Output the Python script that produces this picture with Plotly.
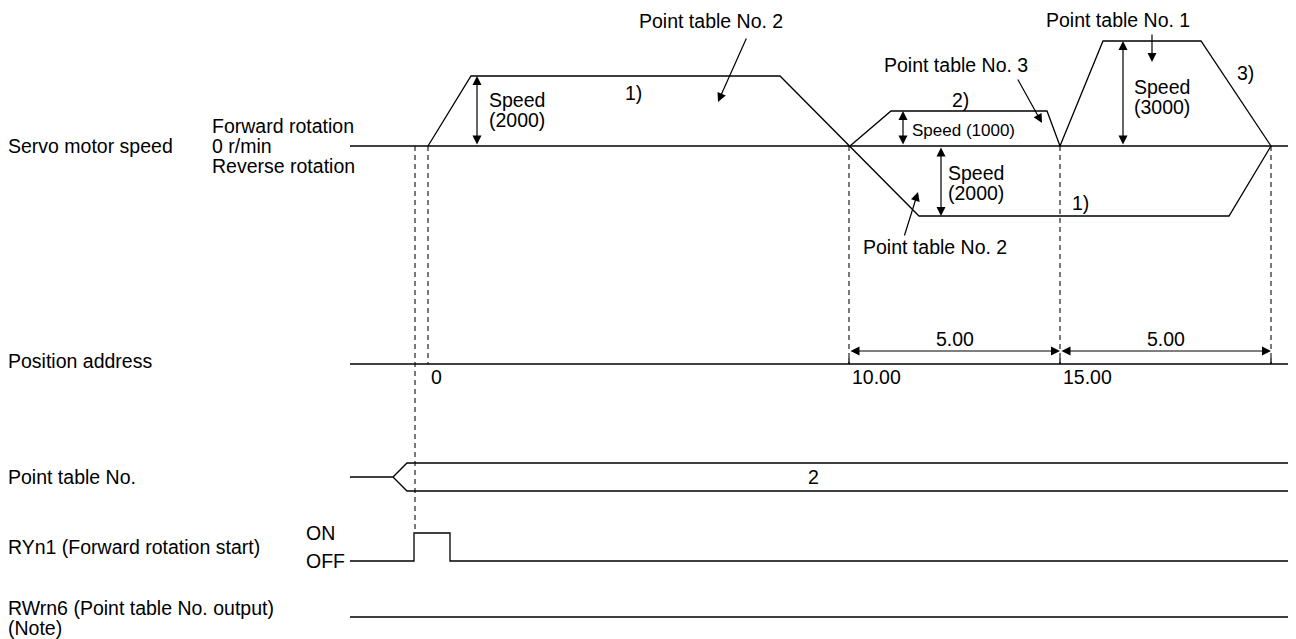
import plotly.graph_objects as go

# --- data -------------------------------------------------------------
# time axis runs left to right (chart units), speed in r/min
SPEED_A_T = [428, 471, 780, 919, 1229, 1271]
SPEED_A_RPM = [0, 2000, 2000, -2000, -2000, 0]
SPEED_B_T = [850, 891, 1047, 1060, 1103, 1201, 1271]
SPEED_B_RPM = [0, 1000, 1000, 0, 3000, 3000, 0]

POS_T = [428, 849, 1060]
POS_LABELS = ['0', '10.00', '15.00']
DIST_T = [849, 1060, 1271]
DIST_LABELS = ['5.00', '5.00']

PT_CHANGE_T = [393, 407]
PT_VALUE = '2'

RY_T = [350, 414, 414, 450, 450, 1292]
RY_STATE = [0, 0, 1, 1, 0, 0]
RW_T = [350, 1292]
RW_STATE = [0, 0]

T_START, T_END = 350, 1292

# --- layout helpers ---------------------------------------------------
SPEED_Y0 = 146
PX_PER_RPM = 70 / 2000
POS_Y = 364
PT_Y, PT_H = 477, 14
RY_Y0, RY_H = 561, 28
RW_Y0 = 617

# page body has an 8px margin, so the figure is offset by that much
OFF = 8
FONT = 'Arial, Liberation Sans, sans-serif'
INK = '#000000'


def sy(rpm):
    return SPEED_Y0 - rpm * PX_PER_RPM


fig = go.Figure()


def line(xs, ys, dash=None, color=INK, width=1.3):
    fig.add_trace(go.Scatter(x=xs, y=ys, mode='lines', hoverinfo='skip',
                             line=dict(color=color, width=width, dash=dash)))


def text(x, y, s, size=19.5, anchor='left'):
    fig.add_annotation(x=x, y=y, text=s, showarrow=False, xanchor=anchor,
                       yanchor='middle', borderpad=0, borderwidth=0,
                       font=dict(family=FONT, size=size, color=INK))


def arrow(x, y, ax, ay, both=False):
    fig.add_annotation(x=x, y=y, ax=ax, ay=ay, axref='x', ayref='y', text='',
                       showarrow=True, arrowhead=2, arrowsize=1.5, arrowwidth=1.2,
                       arrowcolor=INK, standoff=0, startstandoff=0,
                       arrowside='end+start' if both else 'end', startarrowhead=2,
                       startarrowsize=1.5)


# dashed guides
DASH = '5px,4px'
line([415, 415], [SPEED_Y0, RY_Y0 - RY_H], dash=DASH, color='#333')
for t in [428] + DIST_T:
    line([t, t], [SPEED_Y0, POS_Y], dash=DASH, color='#333')

# servo motor speed
line([T_START, T_END], [SPEED_Y0, SPEED_Y0])
line(SPEED_A_T, [sy(v) for v in SPEED_A_RPM])
line(SPEED_B_T, [sy(v) for v in SPEED_B_RPM])

# speed dimension arrows
arrow(477, sy(2000), 477, SPEED_Y0, both=True)
arrow(903, sy(1000), 903, SPEED_Y0, both=True)
arrow(941, sy(-2000), 941, SPEED_Y0, both=True)
arrow(1123, sy(3000), 1123, SPEED_Y0, both=True)

text(489, 100, 'Speed')
text(489, 120, '(2000)')
text(912, 130, 'Speed (1000)', size=17)
text(948, 173, 'Speed')
text(948, 193, '(2000)')
text(1134, 87, 'Speed')
text(1134, 107, '(3000)')

text(633, 93, '1)', anchor='center')
text(960, 100, '2)', anchor='center')
text(1080, 203, '1)', anchor='center')
text(1245, 73, '3)', anchor='center')

text(639, 21, 'Point table No. 2')
arrow(718, 102, 747, 37)
text(884, 65, 'Point table No. 3')
arrow(1042, 123, 1017, 78)
text(1046, 20, 'Point table No. 1')
arrow(1152, 62, 1152, 33)
text(863, 247, 'Point table No. 2')
arrow(918, 192, 904, 237)

# position address
line([T_START, T_END], [POS_Y, POS_Y])
for t in DIST_T:
    line([t, t], [POS_Y - 6, POS_Y])
for lab, t in zip(POS_LABELS, POS_T):
    text(t + 3, POS_Y + 13, lab)
for i, lab in enumerate(DIST_LABELS):
    arrow(DIST_T[i + 1], POS_Y - 13, DIST_T[i], POS_Y - 13, both=True)
    text((DIST_T[i] + DIST_T[i + 1]) / 2, POS_Y - 25, lab, anchor='center')

# point table No.
line([T_START, PT_CHANGE_T[0], PT_CHANGE_T[1], T_END],
     [PT_Y, PT_Y, PT_Y - PT_H, PT_Y - PT_H])
line([PT_CHANGE_T[0], PT_CHANGE_T[1], T_END], [PT_Y, PT_Y + PT_H, PT_Y + PT_H])
text(813, PT_Y, PT_VALUE, anchor='center')

# RYn1 / RWrn6
line(RY_T, [RY_Y0 - s * RY_H for s in RY_STATE])
line(RW_T, [RW_Y0 - s * RY_H for s in RW_STATE])

# left labels
text(8, 146, 'Servo motor speed')
text(212, 126, 'Forward rotation')
text(212, 146, '0 r/min')
text(212, 166, 'Reverse rotation')
text(8, 361, 'Position address')
text(8, 477, 'Point table No.')
text(8, 547, 'RYn1 (Forward rotation start)')
text(306, 533, 'ON')
text(306, 561, 'OFF')
text(8, 608, 'RWrn6 (Point table No. output)')
text(8, 628, '(Note)')

fig.update_layout(
    width=1296 - OFF, height=639 - OFF, showlegend=False,
    margin=dict(l=0, r=0, t=0, b=0),
    plot_bgcolor='white', paper_bgcolor='white',
    xaxis=dict(range=[OFF, 1296], visible=False, fixedrange=True),
    yaxis=dict(range=[639, OFF], visible=False, fixedrange=True),
)

fig.write_html('out.html')
